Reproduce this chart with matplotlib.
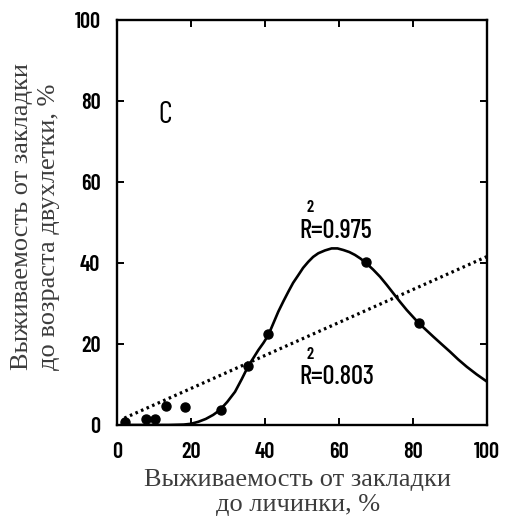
import matplotlib.pyplot as plt

# observed points
obs_x = [2.2, 7.8, 10.3, 13.2, 18.5, 28.2, 35.3, 40.9, 67.3, 81.6]
obs_y = [0.8, 1.5, 1.5, 4.7, 4.4, 3.7, 14.6, 22.4, 40.2, 25.2]

# fitted curve (R^2 = 0.975)
curve_x = [2, 8, 14, 18, 20, 22, 24, 26, 27.8, 29.8, 31.9, 33.7, 35.5, 36.9, 38.2,
           39.6, 40.9, 42.3, 43.6, 45, 46.3, 47.6, 49, 50.3, 51.7, 53, 54.4, 56.2,
           58, 59.6, 61.2, 62.8, 64.3, 65.8, 67.3, 69.2, 71.1, 72.9, 74.7, 76.5,
           78.3, 79.9, 81.4, 83.5, 85.5, 87.8, 90, 92.2, 94.5, 97.2, 100]
curve_y = [0.0, 0.0, 0.0, 0.1, 0.3, 0.8, 1.5, 2.5, 3.7, 5.7, 8.2, 11.3, 14.6, 16.6, 18.5,
           20.3, 22.2, 25.2, 28.0, 30.6, 32.9, 35.1, 37.0, 38.8, 40.3, 41.5, 42.4, 43.1,
           43.6, 43.6, 43.2, 42.7, 42.0, 41.1, 40.0, 38.4, 36.6, 34.6, 32.5, 30.4,
           28.4, 26.8, 25.3, 23.5, 21.8, 19.9, 18.1, 16.2, 14.4, 12.5, 10.7]

# linear fit (R^2 = 0.803)
lin_x = [2.0, 100.0]
lin_y = [1.7, 41.6]

ticks = [0, 20, 40, 60, 80, 100]
narrow = ['Barlow Condensed', 'Archivo Narrow', 'DejaVu Sans']
serif = ['Liberation Serif', 'DejaVu Serif']
label_color = '#3c3c3c'

fig = plt.figure(figsize=(5.05, 5.29), dpi=100)
ax = fig.add_axes([117/505, 1 - 425/529, 370/505, 405/529])

ax.plot(curve_x, curve_y, color='black', lw=1.9, solid_joinstyle='round', zorder=3)
ax.plot(lin_x, lin_y, color='black', lw=2.3, linestyle=(0, (0.8, 1.1)), zorder=2)
ax.plot(obs_x, obs_y, 'o', color='black', ms=6.5, zorder=4)

ax.set_xlim(0, 100)
ax.set_ylim(0, 100)
ax.set_xticks(ticks)
ax.set_yticks(ticks)
for s in ax.spines.values():
    s.set_linewidth(1.7)
ax.tick_params(direction='in', length=5, width=1.4, top=True, right=True, pad=12)
for lab in ax.get_xticklabels() + ax.get_yticklabels():
    lab.set_family(narrow)
    lab.set_fontweight(600)
    lab.set_fontsize(16)

ax.text(13, 76.5, "C", family=narrow, fontsize=22, ha='center', va='center')
ax.text(49.3, 47.8, "R=0.975", family=narrow, fontsize=19, fontweight=500,
        ha='left', va='center')
ax.text(52.3, 53.6, "2", family=narrow, fontsize=12, fontweight=600, ha='center', va='center')
ax.text(49.3, 11.9, "R=0.803", family=narrow, fontsize=19, fontweight=500,
        ha='left', va='center')
ax.text(52.3, 17.5, "2", family=narrow, fontsize=12, fontweight=600, ha='center', va='center')

# axis titles
fig.text(298/505, 1 - 469/529, "Выживаемость от закладки\nдо личинки, %",
         family=serif, fontsize=19, color=label_color, ha='center', va='top',
         linespacing=1.18)
fig.text(11/505, 1 - 216/529, "Выживаемость от закладки\nдо возраста двухлетки, %",
         family=serif, fontsize=19, color=label_color, ha='left', va='center',
         rotation=90, linespacing=1.27)

fig.savefig("out.png", dpi=100)
